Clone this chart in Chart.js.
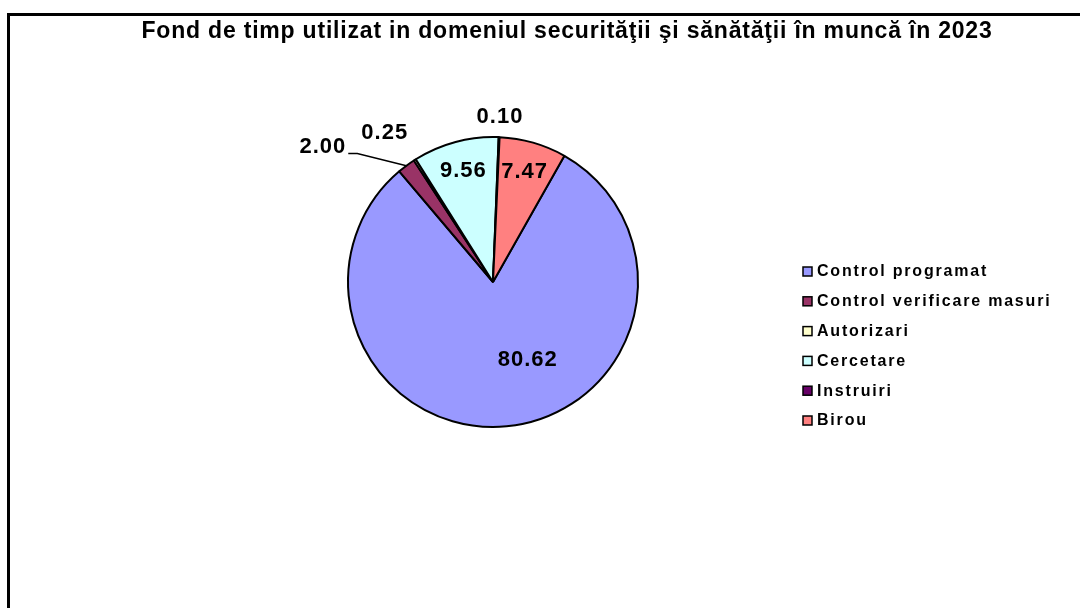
<!DOCTYPE html>
<html>
<head>
<meta charset="utf-8">
<title>Fond de timp SSM 2023</title>
<script src="https://cdn.jsdelivr.net/npm/chart.js@4.4.1/dist/chart.umd.min.js"></script>
<style>
  html, body { margin: 0; padding: 0; background: #fff; }
  #wrap { position: relative; width: 1080px; height: 608px; }
</style>
</head>
<body>
<div id="wrap"><canvas id="chart" width="1080" height="608"></canvas></div>
<script>
var chartTitle = 'Fond de timp utilizat in domeniul securităţii şi sănătăţii în muncă în 2023';
var categories = ['Control programat', 'Control verificare masuri', 'Autorizari', 'Cercetare', 'Instruiri', 'Birou'];
var values     = [80.62, 2.00, 0.25, 9.56, 0.10, 7.47];
var colors     = ['#9999FF', '#993366', '#FFFFCC', '#CCFFFF', '#660066', '#FF8080'];

// where each value label sits: angle shift from slice middle (deg), distance in radii
var labelPlace = [
  { shift: -18.6, dist: 0.59 },
  { shift: -14.8, dist: 1.50, leader: true },
  { shift: -3.4,  dist: 1.27 },
  { shift: 0,     dist: 0.79 },
  { shift: 0,     dist: 1.14 },
  { shift: 0,     dist: 0.79 }
];

var FONT = '"Liberation Sans", Arial, sans-serif';

var framePlugin = {
  id: 'frame',
  beforeDraw: function(chart) {
    var ctx = chart.ctx;
    ctx.save();
    ctx.fillStyle = '#fff';
    ctx.fillRect(0, 0, chart.width, chart.height);
    ctx.strokeStyle = '#000';
    ctx.lineWidth = 3;
    ctx.beginPath();
    ctx.moveTo(8.5, chart.height);
    ctx.lineTo(8.5, 14.5);
    ctx.lineTo(chart.width, 14.5);
    ctx.stroke();
    ctx.restore();
  },
  afterDraw: function(chart) {
    var ctx = chart.ctx;
    ctx.save();
    // title
    ctx.fillStyle = '#000';
    ctx.font = 'bold 23px ' + FONT;
    ctx.letterSpacing = '0.8px';
    ctx.textAlign = 'center';
    ctx.textBaseline = 'middle';
    ctx.fillText(chartTitle, 567, 32);

    // legend
    var labels = chart.data.labels;
    var bg = chart.data.datasets[0].backgroundColor;
    ctx.font = 'bold 16px ' + FONT;
    ctx.textAlign = 'left';
    ctx.letterSpacing = '1.8px';
    for (var i = 0; i < labels.length; i++) {
      var y = 272 + i * 29.8;
      ctx.fillStyle = bg[i];
      ctx.fillRect(803, y - 5, 9, 9);
      ctx.strokeStyle = '#000';
      ctx.lineWidth = 1.5;
      ctx.strokeRect(803, y - 5, 9, 9);
      ctx.fillStyle = '#000';
      ctx.fillText(labels[i], 817, y);
    }
    ctx.restore();
  }
};

var valueLabels = {
  id: 'valueLabels',
  afterDatasetsDraw: function(chart) {
    var ctx = chart.ctx;
    var meta = chart.getDatasetMeta(0);
    var data = chart.data.datasets[0].data;
    ctx.save();
    ctx.font = 'bold 22px ' + FONT;
    ctx.letterSpacing = '1px';
    ctx.textAlign = 'center';
    ctx.textBaseline = 'middle';
    ctx.fillStyle = '#000';
    meta.data.forEach(function(arc, i) {
      var p = labelPlace[i];
      var mid = (arc.startAngle + arc.endAngle) / 2;
      var a = mid + p.shift * Math.PI / 180;
      var r = arc.outerRadius;
      var x = arc.x + Math.cos(a) * r * p.dist;
      var y = arc.y + Math.sin(a) * r * p.dist;
      var txt = data[i].toFixed(2);
      ctx.fillText(txt, x, y);
      if (p.leader) {
        var w = ctx.measureText(txt).width;
        var ex = arc.x + Math.cos(mid) * r;
        var ey = arc.y + Math.sin(mid) * r;
        ctx.strokeStyle = '#000';
        ctx.lineWidth = 1.5;
        ctx.beginPath();
        ctx.moveTo(x + w / 2 + 2, y + 7);
        ctx.lineTo(x + w / 2 + 11, y + 7);
        ctx.lineTo(ex, ey);
        ctx.stroke();
      }
    });
    ctx.restore();
  }
};

var chart = new Chart(document.getElementById('chart'), {
  type: 'pie',
  data: {
    labels: categories,
    datasets: [{
      data: values,
      backgroundColor: colors,
      borderColor: '#000',
      borderWidth: 2
    }]
  },
  options: {
    responsive: false,
    animation: false,
    rotation: 29.5,
    layout: {
      padding: { left: 347, right: 441, top: 136, bottom: 180 }
    },
    plugins: {
      legend: { display: false },
      title: { display: false },
      tooltip: { enabled: false }
    }
  },
  plugins: [framePlugin, valueLabels]
});
</script>
</body>
</html>
